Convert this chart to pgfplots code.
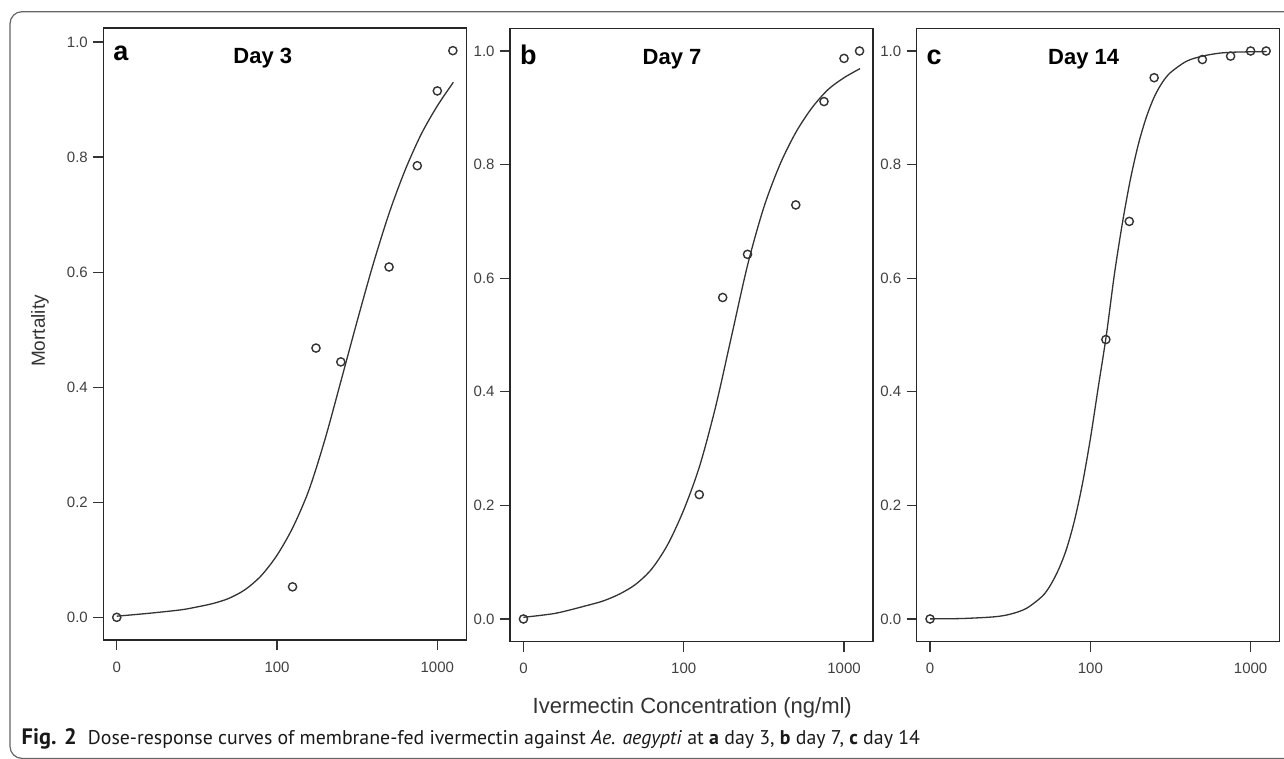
\documentclass[border=0pt]{standalone}
\usepackage{fontspec}
\setmainfont{Liberation Sans}
\newfontfamily\capfont{PT Sans}
\usepackage{pgfplots}
\usepackage{pgfplotstable}
\pgfplotsset{compat=1.18}

% observed mortality (dose in ng/ml; dose 0 is drawn at 10, broken axis)
\pgfplotstableread{
c m
0 0.000
125 0.053
175 0.468
250 0.444
500 0.609
750 0.785
1000 0.915
1250 0.985
}\ptsA
\pgfplotstableread{
c m
0 0.000
125 0.219
175 0.566
250 0.642
500 0.729
750 0.911
1000 0.987
1250 1.000
}\ptsB
\pgfplotstableread{
c m
0 0.000
125 0.492
175 0.700
250 0.953
500 0.985
750 0.991
1000 1.000
1250 1.000
}\ptsC

% fitted curves
\pgfplotstableread{
c m
10 0.002
15.85 0.007
25.12 0.013
31.62 0.018
39.81 0.024
50.12 0.033
63.10 0.048
79.43 0.072
100 0.108
125.9 0.157
158.5 0.222
199.5 0.310
251.2 0.412
316.2 0.515
398.1 0.614
501.2 0.703
631.0 0.778
794.3 0.840
1000 0.889
1258.9 0.930
}\fitA
\pgfplotstableread{
c m
10 0.003
15.85 0.010
25.12 0.024
31.62 0.032
39.81 0.044
50.12 0.061
63.10 0.088
79.43 0.131
100 0.192
125.9 0.270
158.5 0.375
199.5 0.500
251.2 0.625
316.2 0.725
398.1 0.800
501.2 0.857
631.0 0.900
794.3 0.932
1000 0.953
1258.9 0.969
}\fitB
\pgfplotstableread{
c m
10 0.0002
15.85 0.0008
25.12 0.0038
31.62 0.0084
39.81 0.0185
50.12 0.040
56.23 0.059
63.10 0.086
70.79 0.122
79.43 0.172
89.13 0.237
100 0.317
112.2 0.409
125.9 0.500
141.3 0.607
158.5 0.697
177.8 0.774
199.5 0.836
223.9 0.884
251.2 0.920
281.8 0.945
316.2 0.962
398.1 0.982
501.2 0.991
631.0 0.996
794.3 0.998
1258.9 0.999
}\fitC

\definecolor{ink}{HTML}{333333}

\pgfplotsset{
  drcax/.style={
    scale only axis, width=363pt,
    xmin=8.245, xmax=1516.4,
    xtick={10,100,1000}, xticklabels={0,100,1000},
    ytick={0,0.2,0.4,0.6,0.8,1},
    yticklabel style={/pgf/number format/.cd,fixed,fixed zerofill,precision=1},
    tick pos=left, tick align=outside, major tick length=10pt,
    xticklabel shift=8pt, yticklabel shift=2pt,
    every tick/.style={line width=1.2pt, color=black!80},
    axis line style={line width=1.3pt, color=black!85},
    tick label style={font=\fontsize{15}{18}\selectfont, color=black!75},
    clip=false,
  },
  fitline/.style={line width=1.3pt, color=ink, smooth, no marks},
  obspts/.style={only marks, mark=o, mark size=4.1pt, color=ink, mark options={line width=1.4pt}},
}
\tikzset{
  lett/.style={anchor=base west, inner sep=0pt, font=\bfseries\fontsize{27}{30}\selectfont},
  ttl/.style={anchor=base west, inner sep=0pt, font=\bfseries\fontsize{22}{26}\selectfont},
}

\begin{document}
\begin{tikzpicture}[x=1pt,y=1pt]
\useasboundingbox (0,0) rectangle (1284,759);
\draw[line width=1.2pt, black!60, rounded corners=12pt] (10,0.6) rectangle (1300,747.3);

% a: day 3
\begin{axis}[xmode=log, drcax, at={(103.3pt,119pt)}, anchor=south west, height=612pt,
  ymin=-0.0394, ymax=1.0244, xminorticks=false,
  /pgf/number format/assume math mode=true]
  \addplot[fitline] table[x=c, y=m] {\fitA};
  \addplot[obspts] table[x expr={max(\thisrow{c},10)}, y=m] {\ptsA};
  \node[lett] at (rel axis cs:0.027,0.947) {a};
  \node[ttl] at (rel axis cs:0.358,0.942) {Day 3};
\end{axis}

% b: day 7
\begin{axis}[xmode=log, drcax, at={(510pt,117.3pt)}, anchor=south west, height=613.4pt,
  ymin=-0.04, ymax=1.04, xminorticks=false,
  /pgf/number format/assume math mode=true]
  \addplot[fitline] table[x=c, y=m] {\fitB};
  \addplot[obspts] table[x expr={max(\thisrow{c},10)}, y=m] {\ptsB};
  \node[lett] at (rel axis cs:0.027,0.941) {b};
  \node[ttl] at (rel axis cs:0.365,0.941) {Day 7};
\end{axis}

% c: day 14
\begin{axis}[xmode=log, drcax, at={(916.6pt,117.3pt)}, anchor=south west, height=613.4pt,
  ymin=-0.04, ymax=1.04, xminorticks=false,
  /pgf/number format/assume math mode=true]
  \addplot[fitline] table[x=c, y=m] {\fitC};
  \addplot[obspts] table[x expr={max(\thisrow{c},10)}, y=m] {\ptsC};
  \node[lett] at (rel axis cs:0.027,0.941) {c};
  \node[ttl] at (rel axis cs:0.362,0.941) {Day 14};
\end{axis}

\node[rotate=90, color=black!80, font=\fontsize{19}{22}\selectfont] at (40,428) {Mortality};
\node[anchor=base, inner sep=0pt, color=black!80, font=\fontsize{22}{26}\selectfont] at (692.3,45) {Ivermectin Concentration (ng/ml)};
% caption
\node[anchor=base west, inner sep=0pt, color=black!90, font=\capfont\fontsize{21}{24}\selectfont] at (21.5,14)
  {\resizebox{55pt}{!}{\textbf{Fig. 2}}};
\node[anchor=base west, inner sep=0pt, color=black!90, font=\capfont\fontsize{20}{24}\selectfont] at (87.7,14)
  {\resizebox{832pt}{!}{Dose-response curves of membrane-fed ivermectin against \textit{Ae. aegypti} at \textbf{a} day 3, \textbf{b} day 7, \textbf{c} day 14}};
\end{tikzpicture}
\end{document}
